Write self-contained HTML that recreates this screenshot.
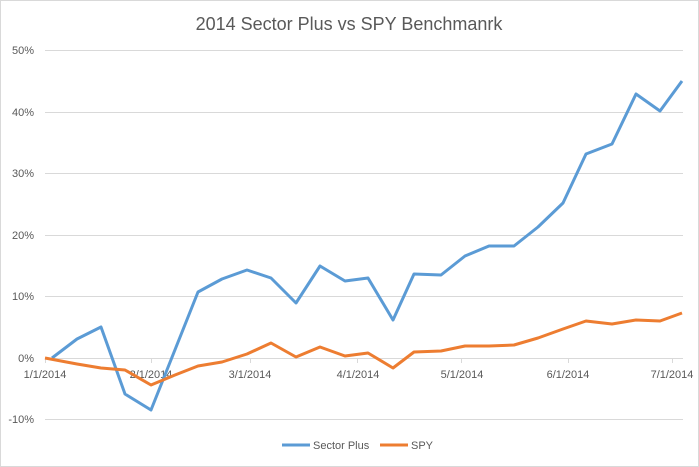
<!DOCTYPE html><html><head><style>body{margin:0;background:#fff}svg{display:block}text{font-family:"Liberation Sans",sans-serif;fill:#595959}</style></head><body>
<svg width="699" height="467" viewBox="0 0 699 467">
<rect x="0.5" y="0.5" width="698" height="466" fill="#fff" stroke="#d9d9d9"/>
<text x="349" y="30" font-size="18" text-anchor="middle">2014 Sector Plus vs SPY Benchmanrk</text>
<g stroke="#d9d9d9" stroke-width="1">
<line x1="45" x2="683" y1="50.5" y2="50.5"/><line x1="45" x2="683" y1="112.5" y2="112.5"/><line x1="45" x2="683" y1="173.5" y2="173.5"/><line x1="45" x2="683" y1="235.5" y2="235.5"/><line x1="45" x2="683" y1="296.5" y2="296.5"/><line x1="45" x2="683" y1="419.5" y2="419.5"/>
<line x1="45" x2="683" y1="358.5" y2="358.5"/>
<line x1="45.5" x2="45.5" y1="358" y2="363"/><line x1="151.5" x2="151.5" y1="358" y2="363"/><line x1="250.5" x2="250.5" y1="358" y2="363"/><line x1="357.5" x2="357.5" y1="358" y2="363"/><line x1="461.5" x2="461.5" y1="358" y2="363"/><line x1="568.5" x2="568.5" y1="358" y2="363"/><line x1="672.5" x2="672.5" y1="358" y2="363"/>
</g>
<g font-size="11" text-anchor="end">
<text x="34" y="54">50%</text><text x="34" y="116">40%</text><text x="34" y="177">30%</text><text x="34" y="239">20%</text><text x="34" y="300">10%</text><text x="34" y="362">0%</text><text x="34" y="423">-10%</text>
</g>
<g font-size="11" text-anchor="middle">
<text x="45" y="378">1/1/2014</text><text x="151" y="378">2/1/2014</text><text x="250" y="378">3/1/2014</text><text x="358" y="378">4/1/2014</text><text x="462" y="378">5/1/2014</text><text x="568" y="378">6/1/2014</text><text x="672" y="378">7/1/2014</text>
</g>
<polyline fill="none" stroke="#5b9bd5" stroke-width="3" stroke-linejoin="round" points="52,358 77,339 101,327 125,394 151,410 198,292 222,279 247,270 271,278 296,303 320,266 345,281 368,278 393,320 414,274 441,275 465,256 489,246 514,246 538,227 563,203 586,154 612,144 636,94 660,111 682,81"/>
<polyline fill="none" stroke="#ed7d31" stroke-width="3" stroke-linejoin="round" points="45,358 77,364 101,368 125,370 151,385 175,375 198,366 222,362 247,354 271,343 296,357 320,347 345,356 368,353 393,368 414,352 441,351 465,346 489,346 514,345 538,338 563,329 586,321 612,324 636,320 660,321 682,313"/>
<line x1="282" x2="310" y1="445" y2="445" stroke="#5b9bd5" stroke-width="3"/><text x="313" y="449" font-size="11">Sector Plus</text>
<line x1="380" x2="408" y1="445" y2="445" stroke="#ed7d31" stroke-width="3"/><text x="411" y="449" font-size="11">SPY</text>
</svg></body></html>
